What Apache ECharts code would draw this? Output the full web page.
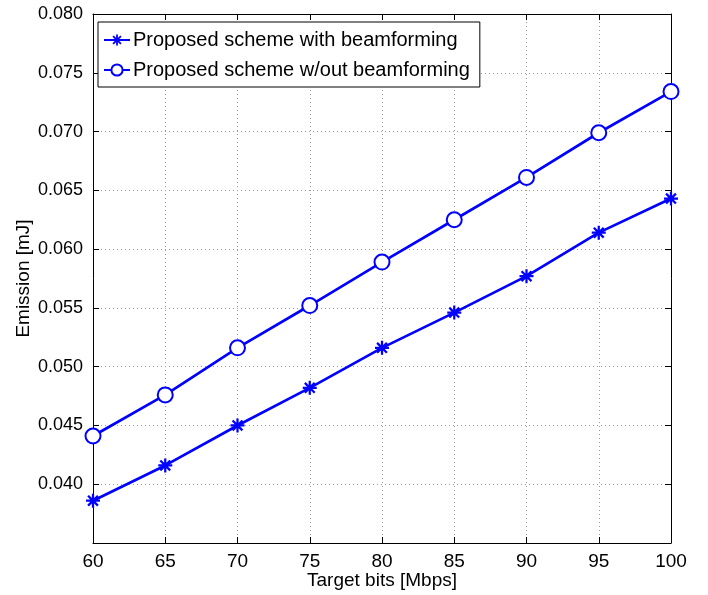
<!DOCTYPE html>
<html>
<head>
<meta charset="utf-8">
<script src="https://cdn.jsdelivr.net/npm/echarts@6/dist/echarts.min.js"></script>
<style>
  html, body { margin: 0; padding: 0; background: #fff; }
  #main { width: 708px; height: 595px; }
</style>
</head>
<body>
<div id="main"></div>
<script>
// data
const targetBits = [60, 65, 70, 75, 80, 85, 90, 95, 100];
const withBeamforming = [0.0386, 0.0416, 0.0450, 0.0482, 0.0516, 0.0546, 0.0577, 0.0614, 0.0643];
const withoutBeamforming = [0.0441, 0.0476, 0.0516, 0.0552, 0.0589, 0.0625, 0.0661, 0.0699, 0.0734];
const seriesNames = ["Proposed scheme with beamforming", "Proposed scheme w/out beamforming"];

const FONT = "'Liberation Sans', Arial, sans-serif";
const BLUE = "#0000ff";

// matlab style asterisk (+ and x)
const STAR =
  "path://M-1.6,-10L1.6,-10L1.6,10L-1.6,10Z" +
  "M-10,-1.6L10,-1.6L10,1.6L-10,1.6Z" +
  "M-5.9,-8.2L8.2,5.9L5.9,8.2L-8.2,-5.9Z" +
  "M8.2,-5.9L-5.9,8.2L-8.2,5.9L5.9,-8.2Z";

const toPairs = (ys) => targetBits.map((x, i) => [x, ys[i]]);

const myChart = echarts.init(document.getElementById("main"), null, { renderer: "canvas" });

const gridLine = { show: true, lineStyle: { color: "#9a9a9a", type: [1, 3], width: 1 } };
const boxLine = { show: true, onZero: false, lineStyle: { color: "#000", width: 1 } };
const tickIn = { show: true, inside: true, length: 6, lineStyle: { color: "#000" } };

myChart.setOption({
  animation: false,
  grid: { left: 93, right: 37, top: 14, bottom: 52, outerBoundsMode: "none" },
  legend: {
    orient: "vertical",
    left: 98,
    top: 22,
    padding: [7, 10, 6, 5],
    itemGap: 8,
    itemWidth: 26,
    itemHeight: 14,
    backgroundColor: "#fff",
    borderColor: "#000",
    borderWidth: 1,
    borderRadius: 0,
    textStyle: { fontFamily: FONT, fontSize: 20, lineHeight: 22, color: "#000", padding: [0, 0, 0, -2] },
    data: seriesNames,
  },
  xAxis: [
    {
      type: "value",
      min: 60,
      max: 100,
      interval: 5,
      name: "Target bits [Mbps]",
      nameLocation: "middle",
      nameGap: 28,
      nameMoveOverlap: false,
      nameTextStyle: { fontFamily: FONT, fontSize: 19, color: "#000" },
      axisLine: boxLine,
      axisTick: tickIn,
      axisLabel: { fontFamily: FONT, fontSize: 19, color: "#000", margin: 9 },
      splitLine: gridLine,
    },
    {
      type: "value",
      position: "top",
      min: 60,
      max: 100,
      interval: 5,
      axisLine: boxLine,
      axisTick: tickIn,
      axisLabel: { show: false },
      splitLine: { show: false },
    },
  ],
  yAxis: [
    {
      type: "value",
      min: 0.035,
      max: 0.08,
      interval: 0.005,
      name: "Emission [mJ]",
      nameLocation: "middle",
      nameGap: 60,
      nameMoveOverlap: false,
      nameTextStyle: { fontFamily: FONT, fontSize: 19, color: "#000" },
      axisLine: boxLine,
      axisTick: tickIn,
      axisLabel: {
        fontFamily: FONT,
        fontSize: 18,
        color: "#000",
        margin: 10,
        formatter: (v) => (Math.abs(v - 0.035) < 1e-9 ? "" : v.toFixed(3)),
      },
      splitLine: gridLine,
    },
    {
      type: "value",
      position: "right",
      min: 0.035,
      max: 0.08,
      interval: 0.005,
      axisLine: boxLine,
      axisTick: tickIn,
      axisLabel: { show: false },
      splitLine: { show: false },
    },
  ],
  series: [
    {
      name: seriesNames[0],
      type: "line",
      data: toPairs(withBeamforming),
      symbol: STAR,
      symbolSize: 14,
      lineStyle: { color: BLUE, width: 2.7 },
      itemStyle: { color: BLUE },
      z: 3,
    },
    {
      name: seriesNames[1],
      type: "line",
      data: toPairs(withoutBeamforming),
      symbol: "emptyCircle",
      symbolSize: 15,
      lineStyle: { color: BLUE, width: 2.7 },
      itemStyle: { color: BLUE, borderWidth: 2.2, borderColor: BLUE },
      z: 3,
    },
  ],
});
</script>
</body>
</html>
